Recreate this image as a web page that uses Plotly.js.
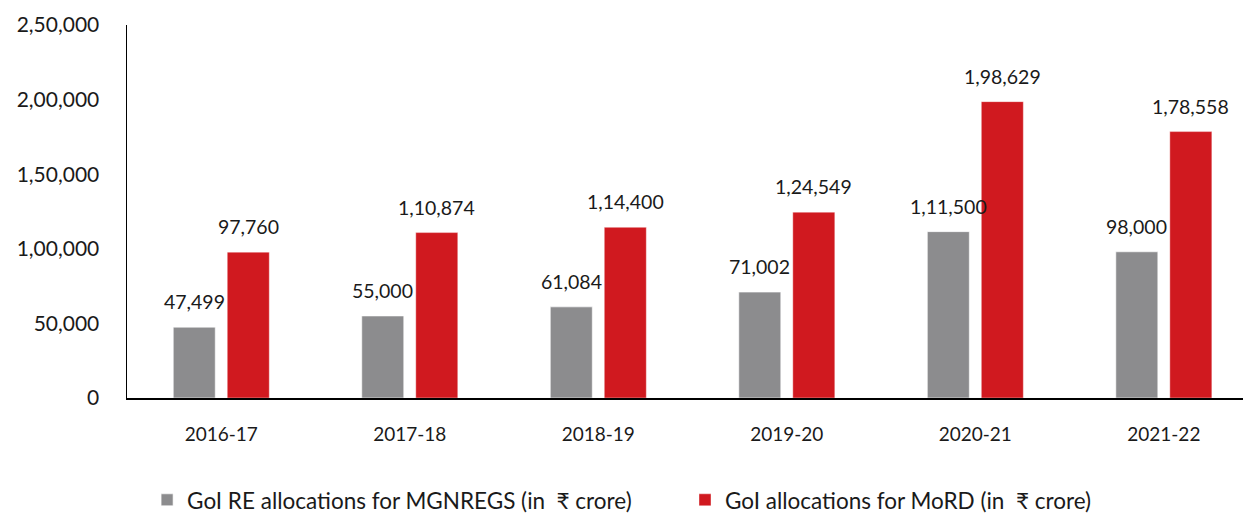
<!DOCTYPE html>
<html>
<head>
<meta charset="utf-8">
<script src="https://cdn.plot.ly/plotly-3.0.1.min.js"></script>
<style>
  html, body { margin: 0; padding: 0; background: #fff; }
  #chart { width: 1243px; height: 513px; }
</style>
</head>
<body>
<div id="chart"></div>
<script>
const years = ['2016-17', '2017-18', '2018-19', '2019-20', '2020-21', '2021-22']
const mgnregs = [47499, 55000, 61084, 71002, 111500, 98000]
const mord = [97760, 110874, 114400, 124549, 198629, 178558]
const yTicks = [0, 50000, 100000, 150000, 200000, 250000]

const seriesNames = ['GoI RE allocations for MGNREGS (in  ₹ crore)', 'GoI allocations for MoRD (in  ₹ crore)']
const grey = '#8c8c8e'
const red = '#d0191f'
const font = 'Lato, "Open Sans", sans-serif'

// Indian grouping: 1,98,629
function indian(n) {
  const s = String(Math.round(n))
  if (s.length <= 3) return s
  const last3 = s.slice(-3)
  let rest = s.slice(0, -3)
  const parts = []
  while (rest.length > 2) {
    parts.unshift(rest.slice(-2))
    rest = rest.slice(0, -2)
  }
  if (rest) parts.unshift(rest)
  return parts.join(',') + ',' + last3
}

const traces = [
  {
    type: 'bar', name: seriesNames[0], x: years, y: mgnregs,
    marker: { color: grey, line: { color: 'rgba(255,255,255,0.6)', width: 1 } },
    hoverinfo: 'y', legend: 'legend'
  },
  {
    type: 'bar', name: seriesNames[1], x: years, y: mord,
    marker: { color: red, line: { color: 'rgba(255,255,255,0.4)', width: 1 } },
    hoverinfo: 'y', legend: 'legend2'
  }
]

// value labels above each bar
const annotations = []
years.forEach((yr, i) => {
  annotations.push({ x: yr, y: mgnregs[i], text: indian(mgnregs[i]), xshift: -27, yshift: 12,
    yanchor: 'bottom', showarrow: false, font: { family: font, size: 19.5, color: '#1a1a1a' } })
  annotations.push({ x: yr, y: mord[i], text: indian(mord[i]), xshift: 27, yshift: 12,
    yanchor: 'bottom', showarrow: false, font: { family: font, size: 19.5, color: '#1a1a1a' } })
})

const legendStyle = {
  orientation: 'h', xanchor: 'left', y: -0.274, yanchor: 'middle',
  font: { family: font, size: 22.5, color: '#1a1a1a' },
  itemclick: false
}

const layout = {
  width: 1243, height: 513,
  margin: { l: 127, r: 0, t: 25, b: 115, autoexpand: false },
  paper_bgcolor: '#fff', plot_bgcolor: '#fff',
  font: { family: font, size: 18, color: '#1a1a1a' },
  barmode: 'group', bargap: 0.427, bargroupgap: 0.222,
  showlegend: true,
  legend: Object.assign({ x: 0.018 }, legendStyle),
  legend2: Object.assign({ x: 0.5 }, legendStyle),
  xaxis: {
    type: 'category', range: [-0.5, 5.42],
    showline: true, linecolor: '#000', linewidth: 1.5,
    showgrid: false, zeroline: false,
    ticks: 'outside', ticklen: 19, tickcolor: 'rgba(0,0,0,0)',
    tickfont: { family: font, size: 19, color: '#1a1a1a' }
  },
  yaxis: {
    range: [0, 250000],
    showline: true, linecolor: '#000', linewidth: 1.5,
    showgrid: false, zeroline: false,
    tickvals: yTicks, ticktext: yTicks.map(indian),
    ticks: 'outside', ticklen: 22, tickcolor: 'rgba(0,0,0,0)',
    tickfont: { family: font, size: 21, color: '#1a1a1a' }
  },
  annotations: annotations
}

Plotly.newPlot('chart', traces, layout, { displayModeBar: false, staticPlot: true })
</script>
</body>
</html>
